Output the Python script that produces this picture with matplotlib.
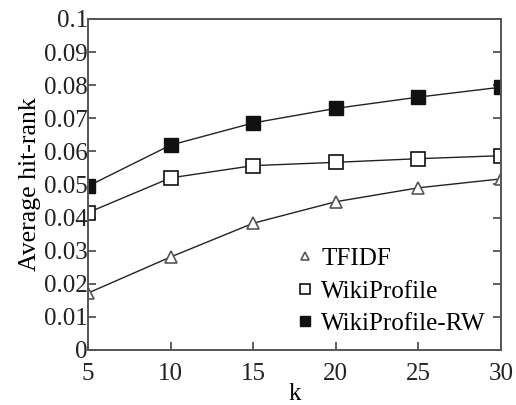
import matplotlib
matplotlib.use("Agg")
import matplotlib.pyplot as plt

plt.rcParams['font.family'] = 'serif'
plt.rcParams['font.serif'] = ['Liberation Serif', 'DejaVu Serif']

k = [5, 10, 15, 20, 25, 30]
tfidf = [0.0172, 0.0281, 0.0383, 0.0448, 0.0490, 0.0517]
wikiprofile = [0.0415, 0.0520, 0.0557, 0.0567, 0.0578, 0.0587]
wikiprofile_rw = [0.0495, 0.0619, 0.0686, 0.0730, 0.0764, 0.0794]

yticks = [0, 0.01, 0.02, 0.03, 0.04, 0.05, 0.06, 0.07, 0.08, 0.09, 0.1]
ytick_labels = ['0', '0.01', '0.02', '0.03', '0.04', '0.05', '0.06', '0.07', '0.08', '0.09', '0.1']

fig = plt.figure(figsize=(5.16, 4.05), dpi=100)
ax = fig.add_axes([88 / 516, 1 - 350 / 405, 413 / 516, 331 / 405])

line_kw = dict(color='#222222', lw=1.0)
ax.plot(k, tfidf, marker='^', ms=8, mfc='white', mec='#555555', mew=1.2,
        label='TFIDF', **line_kw)
ax.plot(k, wikiprofile, marker='s', ms=9.5, mfc='white', mec='#111111', mew=1.2,
        label='WikiProfile', **line_kw)
ax.plot(k, wikiprofile_rw, marker='s', ms=9.5, mfc='#111111', mec='#111111',
        label='WikiProfile-RW', **line_kw)

ax.set_xlim(5, 30)
ax.set_ylim(0, 0.1)
ax.set_xticks(k)
ax.set_yticks(yticks)
ax.set_yticklabels(ytick_labels)
ax.tick_params(axis='both', direction='in', length=6, width=1.2, labelsize=18,
               right=True, top=False, colors='#444444', labelcolor='#222222')
ax.tick_params(axis='y', pad=0)
ax.tick_params(axis='x', pad=9)
for s in ax.spines.values():
    s.set_color('#555555')
    s.set_linewidth(1.4)

ax.set_xlabel('k', fontsize=18, labelpad=-1)
ax.set_ylabel('Average hit-rank', fontsize=18.5, labelpad=2)

leg = ax.legend(loc='lower right', frameon=False, fontsize=18, handlelength=0.5,
                handletextpad=0.4, labelspacing=0.4, borderaxespad=0.1,
                borderpad=0.5, markerscale=0.75)
for h in leg.legend_handles:
    h.set_linestyle('none')

fig.savefig('out.png', dpi=100)
